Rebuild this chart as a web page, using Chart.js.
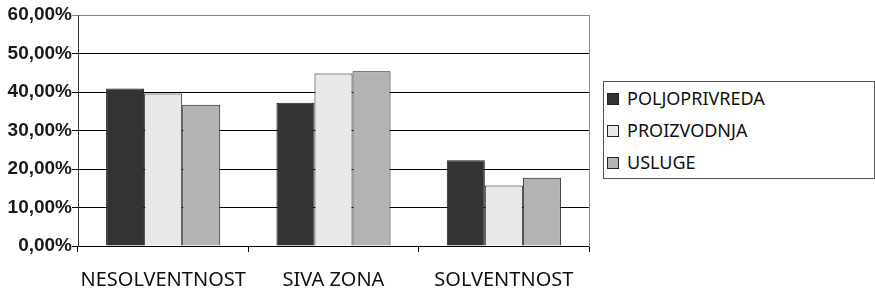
<!DOCTYPE html>
<html>
<head>
<meta charset="utf-8">
<script src="https://cdn.jsdelivr.net/npm/chart.js@4"></script>
<style>
  body { margin: 0; background: #fff; }
  #wrap { position: relative; width: 875px; height: 295px; }
  #legend {
    position: absolute; left: 603px; top: 81px; width: 270px;
    border: 1px solid #555; background: #fff;
    font-family: "Noto Sans", sans-serif; font-size: 18px; color: #111;
    line-height: 32px;
  }
  #legend div { white-space: nowrap; }
  #legend span.box {
    display: inline-block; width: 10px; height: 10px; border: 1px solid #222;
    margin-left: 3px; margin-right: 8px; vertical-align: 0px;
  }
</style>
</head>
<body>
<div id="wrap">
  <canvas id="chart" width="875" height="295"></canvas>
  <div id="legend"></div>
</div>
<script>
// data (percent)
const categories = ['NESOLVENTNOST', 'SIVA ZONA', 'SOLVENTNOST'];
const seriesNames = ['POLJOPRIVREDA', 'PROIZVODNJA', 'USLUGE'];
const poljoprivreda = [40.9, 37.2, 22.3];
const proizvodnja = [39.6, 44.8, 15.7];
const usluge = [36.7, 45.4, 17.7];
const yTicks = [0, 10, 20, 30, 40, 50, 60];

const seriesColors = ['#333333', '#e8e8e8', '#b3b3b3'];
const seriesData = [poljoprivreda, proizvodnja, usluge];

const ctx = document.getElementById('chart');

new Chart(ctx, {
  type: 'bar',
  data: {
    labels: categories,
    datasets: seriesNames.map(function (name, i) {
      return {
        label: name,
        data: seriesData[i],
        backgroundColor: seriesColors[i],
        borderColor: '#1a1a1a',
        borderWidth: 1,
        borderSkipped: 'bottom',
        categoryPercentage: 0.67,
        barPercentage: 1.0
      };
    })
  },
  options: {
    responsive: false,
    animation: false,
    devicePixelRatio: 1,
    layout: { padding: { left: 0, top: 15, right: 286, bottom: 3 } },
    plugins: { legend: { display: false }, tooltip: { enabled: false } },
    scales: {
      x: {
        afterFit: function (scale) { scale.height = 46; },
        grid: { offset: true, drawOnChartArea: false, drawTicks: true, tickLength: 6, color: '#000' },
        border: { display: true, color: '#000', width: 1 },
        ticks: {
          padding: 16, color: '#111', maxRotation: 0, minRotation: 0, autoSkip: false,
          font: { family: 'Noto Sans', size: 20 }
        }
      },
      y: {
        min: 0,
        max: 60,
        afterBuildTicks: function (scale) {
          scale.ticks = yTicks.map(function (v) { return { value: v }; });
        },
        afterFit: function (scale) { scale.width = 78; },
        grid: {
          tickLength: 6,
          color: function (c) { return c.tick && c.tick.value === 60 ? '#8a8a8a' : '#000'; }
        },
        border: { display: true, color: '#333', width: 1 },
        ticks: {
          padding: 0,
          color: '#1a1a1a',
          font: { family: 'Liberation Sans', size: 19, weight: 'bold' },
          callback: function (v) { return v.toFixed(2).replace('.', ',') + '%'; }
        }
      },
      yR: {
        position: 'right',
        min: 0,
        max: 60,
        afterFit: function (scale) { scale.width = 0; },
        ticks: { display: false },
        grid: { drawOnChartArea: false, drawTicks: false },
        border: { display: true, color: '#8a8a8a', width: 1 }
      }
    }
  }
});

// legend as html, built from the same arrays
const legend = document.getElementById('legend');
seriesNames.forEach(function (name, i) {
  const row = document.createElement('div');
  const box = document.createElement('span');
  box.className = 'box';
  box.style.background = seriesColors[i];
  row.appendChild(box);
  row.appendChild(document.createTextNode(name));
  legend.appendChild(row);
});
</script>
</body>
</html>
